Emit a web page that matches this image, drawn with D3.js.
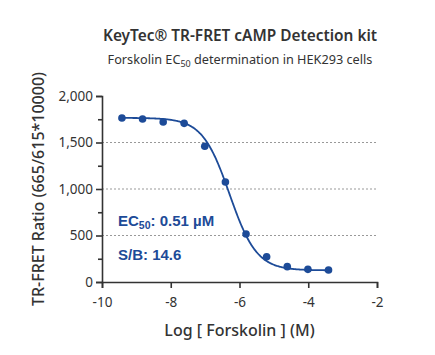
<!DOCTYPE html>
<html><head><meta charset="utf-8">
<script src="https://cdn.jsdelivr.net/npm/d3@7"></script>
<style>body{margin:0;background:#fff}</style>
</head><body>
<svg id="c" width="435" height="355"></svg>
<script>
const logConc = [-9.42, -8.82, -8.22, -7.61, -7.01, -6.41, -5.81, -5.21, -4.61, -4.01, -3.41];
const ratio   = [1763, 1753, 1720, 1706, 1459, 1075, 516, 272, 165, 136, 129];
const fitTop = 1765, fitBottom = 125, fitLogEC50 = -6.29, fitHill = 1.1;
const xTicks = [-10, -8, -6, -4, -2];
const yTicks = [0, 500, 1000, 1500, 2000];
const yMinor = [250, 750, 1250, 1750];
const gridVals = [500, 1000, 1500];

const svg = d3.select("#c");
const font = "'Noto Sans', sans-serif";
const blue = "#1d4b98", axisC = "#333";
const x = d3.scaleLinear().domain([-10, -2]).range([102, 377]);
const y = d3.scaleLinear().domain([0, 2000]).range([282, 96]);

svg.append("text").attr("x", 240).attr("y", 41).attr("text-anchor", "middle")
  .attr("font-family", font).attr("font-weight", 600).attr("font-size", 15.4).attr("fill", "#333")
  .text("KeyTec® TR-FRET cAMP Detection kit");
const sub = svg.append("text").attr("x", 240).attr("y", 64).attr("text-anchor", "middle")
  .attr("font-family", font).attr("font-size", 12.7).attr("fill", "#333");
sub.append("tspan").text("Forskolin EC");
sub.append("tspan").attr("font-size", 9).attr("dy", 3).text("50");
sub.append("tspan").attr("dy", -3).text(" determination in HEK293 cells");

// grid
svg.append("g").selectAll("line").data(gridVals).join("line")
  .attr("x1", x(-10)).attr("x2", x(-2)).attr("y1", d => y(d)).attr("y2", d => y(d))
  .attr("stroke", "#999").attr("stroke-dasharray", "2,2").attr("stroke-width", 1);

// axes
svg.append("g").attr("transform", `translate(${x(-10)},0)`)
  .call(d3.axisLeft(y).tickValues(yTicks).tickFormat(d3.format(",")).tickSize(6).tickPadding(3));
svg.append("g").attr("transform", `translate(${x(-10)},0)`)
  .call(d3.axisLeft(y).tickValues(yMinor).tickFormat("").tickSize(4))
  .call(g => g.select(".domain").remove());
svg.append("g").attr("transform", `translate(0,${y(0)})`)
  .call(d3.axisBottom(x).tickValues(xTicks).tickFormat(d => d).tickSize(6).tickPadding(9));
svg.selectAll(".domain, .tick line").attr("stroke", axisC).attr("stroke-width", 1.6);
svg.selectAll(".tick text").attr("font-family", font).attr("font-size", 13.5).attr("fill", "#333");

// axis titles
svg.append("text").attr("transform", `translate(44,${(y(0)+y(2000))/2}) rotate(-90)`)
  .attr("text-anchor", "middle").attr("font-family", font).attr("font-weight", 500)
  .attr("font-size", 16).attr("fill", "#333").text("TR-FRET Ratio (665/615*10000)");
svg.append("text").attr("x", (x(-10)+x(-2))/2).attr("y", 336).attr("text-anchor", "middle")
  .attr("font-family", font).attr("font-weight", 500).attr("font-size", 16).attr("fill", "#333")
  .text("Log [ Forskolin ] (M)");

// fitted curve
const f = v => fitBottom + (fitTop - fitBottom) / (1 + Math.pow(10, fitHill * (v - fitLogEC50)));
const xs = d3.range(logConc[0], logConc[logConc.length-1] + 0.001, 0.02);
svg.append("path").datum(xs)
  .attr("d", d3.line().x(d => x(d)).y(d => y(f(d))))
  .attr("fill", "none").attr("stroke", blue).attr("stroke-width", 1.8);

svg.append("g").selectAll("circle").data(logConc).join("circle")
  .attr("cx", d => x(d)).attr("cy", (d, i) => y(ratio[i])).attr("r", 3.8).attr("fill", blue);

// annotations
const ec = svg.append("text").attr("x", 118).attr("y", 226)
  .attr("font-family", "'Liberation Sans', Arial, sans-serif").attr("font-weight", "bold")
  .attr("font-size", 15).attr("fill", blue);
ec.append("tspan").text("EC");
ec.append("tspan").attr("font-size", 10.5).attr("dy", 3).text("50");
ec.append("tspan").attr("dy", -3).text(": 0.51 µM");
svg.append("text").attr("x", 118).attr("y", 260)
  .attr("font-family", "'Liberation Sans', Arial, sans-serif").attr("font-weight", "bold")
  .attr("font-size", 15).attr("fill", blue).text("S/B: 14.6");
</script>
</body></html>
